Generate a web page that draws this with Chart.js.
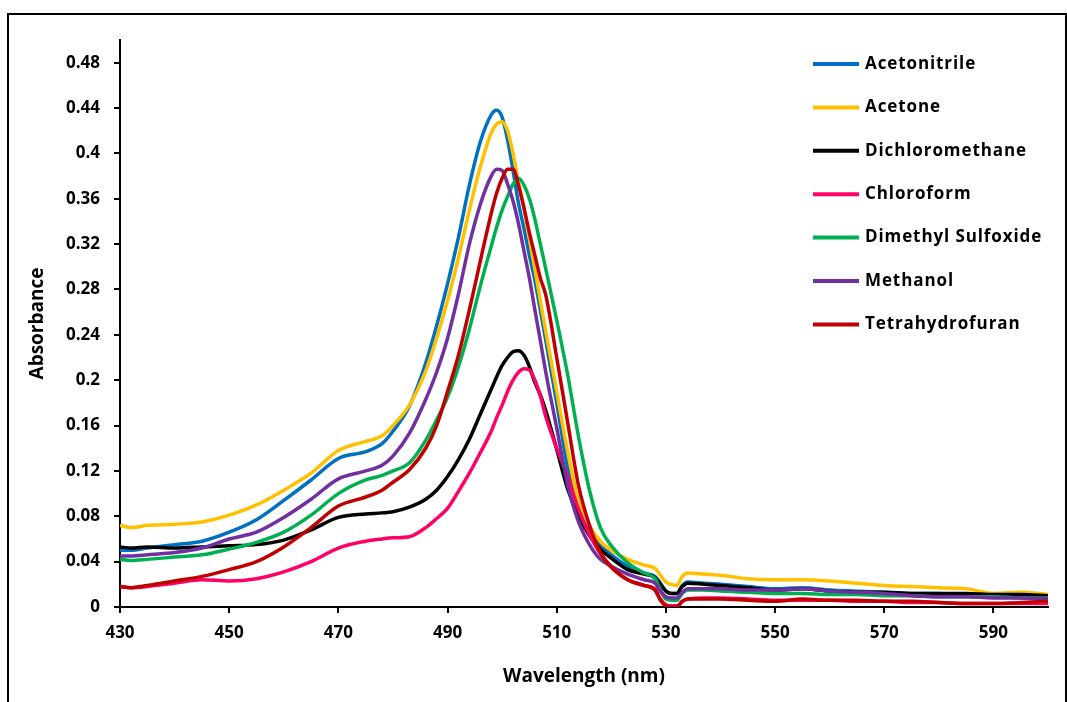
<!doctype html>
<html lang="en">
<head>
<meta charset="utf-8">
<title>Absorbance spectra</title>
<script src="https://cdn.jsdelivr.net/npm/chart.js@4"></script>
<style>
  html, body { margin: 0; padding: 0; background: #fff; }
  #frame { position: absolute; left: 7px; top: 13px; width: 1060px; height: 700px; border: 2px solid #000; box-sizing: border-box; }
  #wrap { position: absolute; left: 0; top: 0; width: 1067px; height: 702px; }
</style>
</head>
<body>
<div id="frame"></div>
<div id="wrap"><canvas id="chart"></canvas></div>
<script>
// wavelength (nm) of each sample
const wavelengths = [430,432,435,440,445,450,455,460,465,470,475,478,480,483,486,488,490,492,494,496,
  498,499,500,501,502,503,504,505,506,507,508,510,512,514,516,518,520,523,526,528,
  529,530,531,532,533,534,537,540,545,550,555,560,565,570,575,580,585,590,595,600]

const acetonitrile = [.050,.050,.052,.055,.058,.066,.077,.094,.112,.131,
  .137,.144,.155,.177,.215,.248,.285,.326,.372,.410,
  .434,.438,.432,.412,.385,.356,.334,.310,.288,.262,
  .235,.180,.123,.087,.066,.055,.046,.036,.030,.027,
  .021,.014,.012,.012,.019,.022,.021,.020,.018,.016,
  .017,.015,.014,.013,.012,.012,.011,.011,.010,.009]

const acetone = [.072,.070,.072,.073,.075,.081,.090,.103,.118,.138,
  .146,.151,.160,.178,.208,.237,.270,.308,.350,.388,
  .418,.426,.428,.420,.400,.375,.352,.325,.298,.270,
  .243,.190,.137,.094,.072,.058,.050,.042,.037,.034,
  .028,.022,.020,.019,.027,.030,.029,.028,.025,.024,
  .024,.023,.021,.019,.018,.017,.016,.012,.013,.011]

const dichloromethane = [.053,.052,.053,.052,.053,.054,.055,.059,.068,.079,
  .082,.083,.084,.088,.095,.103,.115,.130,.148,.170,
  .192,.203,.213,.220,.225,.226,.222,.212,.198,.187,
  .173,.139,.104,.080,.063,.051,.043,.033,.029,.026,
  .020,.014,.012,.012,.018,.021,.020,.019,.017,.015,
  .016,.014,.013,.013,.012,.012,.012,.011,.011,.010]

const chloroform = [.018,.017,.018,.021,.024,.023,.025,.031,.040,.052,
  .058,.060,.061,.062,.070,.078,.087,.102,.118,.136,
  .155,.167,.178,.190,.200,.207,.210,.209,.200,.186,
  .168,.140,.115,.086,.064,.047,.036,.024,.019,.016,
  .007,.002,.001,.001,.005,.007,.008,.008,.007,.006,
  .006,.006,.005,.005,.004,.004,.003,.003,.003,.003]

const dmso = [.042,.041,.042,.044,.046,.051,.057,.066,.081,.100,
  .112,.116,.120,.127,.147,.165,.185,.212,.245,.283,
  .318,.335,.350,.362,.373,.378,.372,.360,.342,.320,
  .298,.253,.205,.150,.103,.070,.054,.039,.030,.025,
  .015,.007,.006,.006,.012,.015,.015,.014,.013,.012,
  .012,.011,.011,.010,.010,.009,.009,.009,.008,.008]

const methanol = [.045,.045,.046,.048,.052,.060,.066,.079,.095,.113,
  .120,.125,.133,.153,.183,.207,.237,.276,.320,.355,
  .380,.386,.385,.373,.358,.338,.314,.290,.262,.235,
  .207,.158,.108,.075,.055,.042,.036,.029,.024,.021,
  .014,.009,.008,.008,.013,.016,.016,.016,.015,.015,
  .016,.014,.013,.012,.010,.009,.009,.008,.008,.007]

const thf = [.018,.017,.019,.023,.027,.033,.040,.053,.070,.089,
  .097,.103,.110,.121,.140,.160,.190,.222,.262,.305,
  .347,.365,.378,.386,.386,.372,.352,.330,.310,.290,
  .275,.220,.163,.107,.072,.048,.035,.024,.019,.015,
  .006,.001,.000,.000,.005,.007,.007,.007,.006,.005,
  .007,.006,.006,.005,.005,.004,.003,.003,.004,.005]

const seriesNames = ['Acetonitrile', 'Acetone', 'Dichloromethane', 'Chloroform', 'Dimethyl Sulfoxide', 'Methanol', 'Tetrahydrofuran']
const seriesValues = [acetonitrile, acetone, dichloromethane, chloroform, dmso, methanol, thf]
const seriesColors = ['#0070C0', '#FFC000', '#000000', '#FF0066', '#00B050', '#7030A0', '#C00000']

const xTicks = [430, 450, 470, 490, 510, 530, 550, 570, 590]
const yTicks = [0, 0.04, 0.08, 0.12, 0.16, 0.2, 0.24, 0.28, 0.32, 0.36, 0.4, 0.44, 0.48]

const FONT = '"Open Sans", "Liberation Sans", sans-serif'

// legend sits inside the plot, to the right like the Excel original
const insideLegend = {
  id: 'insideLegend',
  afterDraw(chart) {
    const ctx = chart.ctx
    ctx.save()
    ctx.font = 'bold 17px ' + FONT
    ctx.letterSpacing = '0.9px'
    ctx.textBaseline = 'middle'
    chart.data.datasets.forEach((ds, i) => {
      const y = 64 + i * 43.4
      ctx.strokeStyle = ds.borderColor
      ctx.lineWidth = 4
      ctx.beginPath()
      ctx.moveTo(813, y)
      ctx.lineTo(859, y)
      ctx.stroke()
      ctx.fillStyle = '#000'
      ctx.fillText(ds.label, 865, y)
    })
    ctx.restore()
  }
}

new Chart(document.getElementById('chart'), {
  type: 'line',
  data: {
    datasets: seriesNames.map((name, i) => ({
      label: name,
      data: wavelengths.map((w, j) => ({ x: w, y: seriesValues[i][j] })),
      borderColor: seriesColors[i],
      backgroundColor: seriesColors[i],
      borderWidth: 3.5,
      pointRadius: 0,
      cubicInterpolationMode: 'monotone',
      order: seriesNames.length - i
    }))
  },
  options: {
    responsive: true,
    maintainAspectRatio: false,
    animation: false,
    layout: { padding: { top: 40, right: 19, left: 0, bottom: 0 } },
    plugins: {
      legend: { display: false },
      tooltip: { enabled: false }
    },
    scales: {
      x: {
        type: 'linear',
        min: 430,
        max: 600,
        afterBuildTicks: scale => { scale.ticks = xTicks.map(v => ({ value: v })) },
        afterFit: scale => { scale.height = 95 },
        grid: { drawOnChartArea: false, drawTicks: true, tickLength: 6, color: '#000', lineWidth: 2 },
        border: { display: true, color: '#000', width: 2 },
        ticks: { color: '#000', padding: 10, maxRotation: 0, font: { family: FONT, size: 17, weight: 'bold' } },
        title: { display: true, text: 'Wavelength (nm)', color: '#000', padding: { top: 0, bottom: 14 }, font: { family: FONT, size: 19, weight: 'bold' } }
      },
      y: {
        type: 'linear',
        min: 0,
        max: 0.5,
        afterBuildTicks: scale => { scale.ticks = yTicks.map(v => ({ value: v })) },
        afterFit: scale => { scale.width = 120 },
        grid: { drawOnChartArea: false, drawTicks: true, tickLength: 6, color: '#000', lineWidth: 2 },
        border: { display: true, color: '#000', width: 2 },
        ticks: { color: '#000', padding: 14, callback: v => String(+v.toFixed(2)), font: { family: FONT, size: 17, weight: 'bold' } },
        title: { display: true, text: 'Absorbance', color: '#000', padding: { top: 26, bottom: 0 }, font: { family: FONT, size: 19, weight: 'bold' } }
      }
    }
  },
  plugins: [insideLegend]
})
</script>
</body>
</html>
